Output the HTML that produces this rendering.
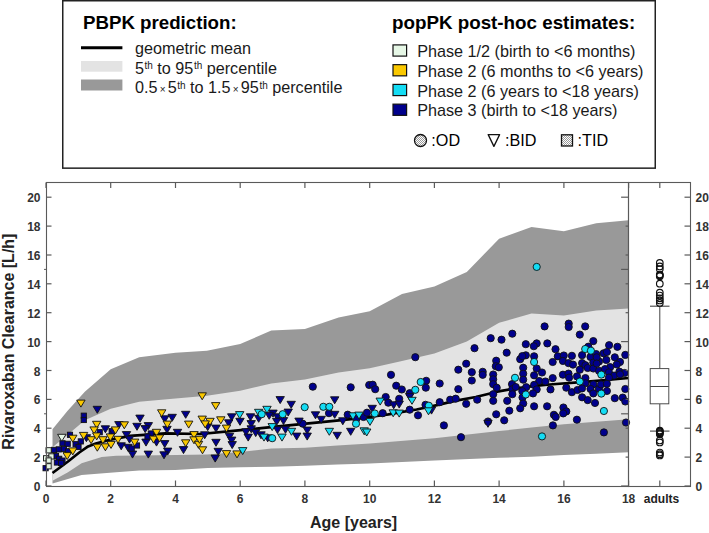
<!DOCTYPE html>
<html><head><meta charset="utf-8"><style>
html,body{margin:0;padding:0;background:#fff;}
svg{display:block;font-family:"Liberation Sans",sans-serif;}
</style></head><body>
<svg width="709" height="533" viewBox="0 0 709 533">
<rect x="62.75" y="0.75" width="592.5" height="167.4" fill="#fff" stroke="#222" stroke-width="1.5"/>
<text x="83" y="28.8" font-size="18.7" font-weight="bold">PBPK prediction:</text>
<line x1="81" y1="47.8" x2="122.4" y2="47.8" stroke="#000" stroke-width="3"/>
<rect x="81" y="61" width="41.4" height="10.7" fill="#e3e3e3"/>
<rect x="81" y="79.5" width="41.4" height="11" fill="#999"/>
<g fill="#1a1a1a">
<text x="135" y="53.9" font-size="16.2">geometric mean</text>
<text x="135" y="73.6" font-size="16.2">5<tspan font-size="10" dy="-4.6" dx="0.5">th</tspan><tspan dy="4.6"> to 95</tspan><tspan font-size="10" dy="-4.6" dx="0.5">th</tspan><tspan dy="4.6"> percentile</tspan></text>
<text x="135" y="93.2" font-size="16.2">0.5<tspan font-size="10" dx="2.2" dy="-0.2">×</tspan><tspan dy="0.2" dx="2.2">5</tspan><tspan font-size="10" dy="-4.6" dx="0.5">th</tspan><tspan dy="4.6"> to 1.5</tspan><tspan font-size="10" dx="2.2" dy="-0.2">×</tspan><tspan dy="0.2" dx="2.2">95</tspan><tspan font-size="10" dy="-4.6" dx="0.5">th</tspan><tspan dy="4.6"> percentile</tspan></text>
</g>
<text x="392" y="28.6" font-size="18.8" font-weight="bold">popPK post-hoc estimates:</text>
<rect x="393" y="44.90" width="13.6" height="11.2" fill="#e6f7e6" stroke="#111" stroke-width="1.2"/>
<text x="417.2" y="57.00" font-size="16.2" fill="#1a1a1a">Phase 1/2 (birth to &lt;6 months)</text>
<rect x="393" y="64.65" width="13.6" height="11.2" fill="#fac800" stroke="#111" stroke-width="1.2"/>
<text x="417.2" y="76.75" font-size="16.2" fill="#1a1a1a">Phase 2 (6 months to &lt;6 years)</text>
<rect x="393" y="84.40" width="13.6" height="11.2" fill="#14dcf4" stroke="#111" stroke-width="1.2"/>
<text x="417.2" y="96.50" font-size="16.2" fill="#1a1a1a">Phase 2 (6 years to &lt;18 years)</text>
<rect x="393" y="104.15" width="13.6" height="11.2" fill="#00008c" stroke="#111" stroke-width="1.2"/>
<text x="417.2" y="116.25" font-size="16.2" fill="#1a1a1a">Phase 3 (birth to &lt;18 years)</text>
<defs><pattern id="dots" width="2" height="2" patternUnits="userSpaceOnUse"><rect width="2" height="2" fill="#fff"/><rect width="1" height="1" fill="#999"/><rect x="1" y="1" width="1" height="1" fill="#999"/></pattern></defs>
<circle cx="420.5" cy="140.5" r="6" fill="url(#dots)" stroke="#111" stroke-width="1.3"/>
<text x="431.3" y="146.3" font-size="16.2">:OD</text>
<path d="M488.2,134.6 L499.6,134.6 L493.9,146.4 Z" fill="#fff" stroke="#111" stroke-width="1.3" stroke-linejoin="round"/>
<text x="505" y="146.3" font-size="16.2">:BID</text>
<rect x="561.5" y="134.8" width="11" height="11.2" fill="url(#dots)" stroke="#111" stroke-width="1.3"/>
<text x="577.5" y="146.3" font-size="16.2">:TID</text>
<polygon points="52.5,429.3 67.4,411.1 84.8,391.7 110.7,369.2 139.2,357.2 175.5,352.7 206.9,350.7 240.2,344.1 271.3,330.5 304.9,328.9 338.6,317.6 369.7,311.3 402.0,293.9 434.4,286.4 466.8,271.9 499.1,238.8 531.5,227.1 563.9,231.3 596.2,223.2 628.6,220.3 628.6,452.2 596.2,453.7 563.9,455.1 531.5,456.7 499.1,457.8 434.4,460.6 369.7,463.6 337.3,464.6 304.9,465.8 272.6,466.8 240.2,467.2 207.8,468.1 175.5,470.1 139.2,470.5 116.2,472.3 81.6,475.0 52.5,483.5" fill="#999"/>
<polygon points="52.5,447.3 67.4,435.0 84.8,420.2 110.7,408.7 139.2,401.7 175.5,398.6 206.9,395.8 240.2,390.7 271.3,383.5 304.9,379.4 338.6,372.6 369.7,368.3 402.0,361.1 434.4,353.4 466.8,341.6 499.1,322.8 531.5,313.6 563.9,315.6 596.2,310.6 628.6,308.4 628.6,419.3 596.2,421.7 563.9,424.2 531.5,427.5 499.1,431.1 434.4,438.2 369.7,443.4 337.3,445.6 304.9,447.7 271.3,448.5 240.2,452.1 206.9,454.5 175.5,455.0 139.2,455.4 116.2,455.8 101.7,457.0 81.6,463.2 68.0,472.3 52.5,480.7" fill="#e3e3e3"/>
<polyline points="52.5,473.0 68.0,461.5 79.3,452.5 88.1,446.4 95.8,443.5 110.7,439.6 130.2,435.9 165.4,433.4 200.7,434.0 235.7,430.7 270.9,427.1 306.2,423.6 341.5,420.2 360.0,418.1 388.4,414.4 416.6,409.5 439.3,404.6 454.8,400.9 475.8,397.0 497.2,391.7 511.4,389.0 532.8,386.1 549.6,384.5 587.8,381.6 628.6,378.0" fill="none" stroke="#000" stroke-width="2.7" stroke-linejoin="round"/>
<clipPath id="pc"><rect x="46.0" y="182.5" width="582.6" height="303.5"/></clipPath>
<g stroke="#111" stroke-width="0.9">
<rect x="67.4" y="432.2" width="5.2" height="5.2" fill="#00008c"/>
<rect x="59.9" y="440.7" width="5.2" height="5.2" fill="#00008c"/>
<rect x="65.1" y="441.2" width="5.2" height="5.2" fill="#00008c"/>
<rect x="73.0" y="441.6" width="5.2" height="5.2" fill="#00008c"/>
<rect x="78.2" y="438.8" width="5.2" height="5.2" fill="#00008c"/>
<rect x="75.9" y="444.4" width="5.2" height="5.2" fill="#00008c"/>
<rect x="51.5" y="447.3" width="5.2" height="5.2" fill="#00008c"/>
<rect x="56.2" y="446.8" width="5.2" height="5.2" fill="#00008c"/>
<rect x="61.3" y="446.3" width="5.2" height="5.2" fill="#00008c"/>
<rect x="65.5" y="448.7" width="5.2" height="5.2" fill="#00008c"/>
<rect x="53.4" y="453.4" width="5.2" height="5.2" fill="#00008c"/>
<rect x="56.6" y="456.2" width="5.2" height="5.2" fill="#00008c"/>
<rect x="59.9" y="458.0" width="5.2" height="5.2" fill="#00008c"/>
<rect x="54.3" y="459.9" width="5.2" height="5.2" fill="#00008c"/>
<rect x="58.5" y="460.4" width="5.2" height="5.2" fill="#00008c"/>
<rect x="43.0" y="465.6" width="5.2" height="5.2" fill="#00008c"/>
<rect x="81.2" y="413.1" width="5.2" height="5.2" fill="#00008c"/>
<rect x="81.2" y="417.4" width="5.2" height="5.2" fill="#00008c"/>
<rect x="97.1" y="429.6" width="5.2" height="5.2" fill="#00008c"/>
<rect x="109.1" y="429.6" width="5.2" height="5.2" fill="#00008c"/>
<path d="M82.20,434.70h8.4l-4.2,7z" fill="#00008c"/>
<path d="M93.10,406.30h8.4l-4.2,7z" fill="#00008c"/>
<path d="M101.20,425.80h8.4l-4.2,7z" fill="#00008c"/>
<path d="M114.70,421.60h8.4l-4.2,7z" fill="#00008c"/>
<path d="M135.80,415.10h8.4l-4.2,7z" fill="#00008c"/>
<path d="M168.00,414.30h8.4l-4.2,7z" fill="#00008c"/>
<path d="M181.50,411.30h8.4l-4.2,7z" fill="#00008c"/>
<path d="M160.50,415.80h8.4l-4.2,7z" fill="#00008c"/>
<path d="M132.80,423.30h8.4l-4.2,7z" fill="#00008c"/>
<path d="M144.10,422.60h8.4l-4.2,7z" fill="#00008c"/>
<path d="M141.00,425.60h8.4l-4.2,7z" fill="#00008c"/>
<path d="M162.80,426.30h8.4l-4.2,7z" fill="#00008c"/>
<path d="M173.30,429.30h8.4l-4.2,7z" fill="#00008c"/>
<path d="M122.30,431.60h8.4l-4.2,7z" fill="#00008c"/>
<path d="M125.30,436.10h8.4l-4.2,7z" fill="#00008c"/>
<path d="M141.80,439.10h8.4l-4.2,7z" fill="#00008c"/>
<path d="M152.30,439.10h8.4l-4.2,7z" fill="#00008c"/>
<path d="M160.50,440.60h8.4l-4.2,7z" fill="#00008c"/>
<path d="M117.00,442.80h8.4l-4.2,7z" fill="#00008c"/>
<path d="M123.80,444.30h8.4l-4.2,7z" fill="#00008c"/>
<path d="M128.30,451.10h8.4l-4.2,7z" fill="#00008c"/>
<path d="M144.10,451.10h8.4l-4.2,7z" fill="#00008c"/>
<path d="M163.50,448.10h8.4l-4.2,7z" fill="#00008c"/>
<path d="M159.80,451.80h8.4l-4.2,7z" fill="#00008c"/>
<path d="M179.30,446.60h8.4l-4.2,7z" fill="#00008c"/>
<path d="M108.80,428.60h8.4l-4.2,7z" fill="#00008c"/>
<rect x="148.2" y="430.9" width="5.2" height="5.2" fill="#00008c"/>
<rect x="129.1" y="445.9" width="5.2" height="5.2" fill="#00008c"/>
<rect x="134.4" y="442.9" width="5.2" height="5.2" fill="#00008c"/>
<rect x="144.9" y="433.9" width="5.2" height="5.2" fill="#00008c"/>
<path d="M276.00,396.60h8.4l-4.2,7z" fill="#00008c"/>
<path d="M227.50,413.80h8.4l-4.2,7z" fill="#00008c"/>
<path d="M235.80,418.30h8.4l-4.2,7z" fill="#00008c"/>
<path d="M246.30,413.80h8.4l-4.2,7z" fill="#00008c"/>
<path d="M224.50,419.80h8.4l-4.2,7z" fill="#00008c"/>
<path d="M211.80,425.10h8.4l-4.2,7z" fill="#00008c"/>
<path d="M203.50,423.60h8.4l-4.2,7z" fill="#00008c"/>
<path d="M247.00,420.60h8.4l-4.2,7z" fill="#00008c"/>
<path d="M254.50,415.30h8.4l-4.2,7z" fill="#00008c"/>
<path d="M268.80,410.10h8.4l-4.2,7z" fill="#00008c"/>
<path d="M265.00,412.30h8.4l-4.2,7z" fill="#00008c"/>
<path d="M273.30,413.80h8.4l-4.2,7z" fill="#00008c"/>
<path d="M272.50,418.30h8.4l-4.2,7z" fill="#00008c"/>
<path d="M279.30,417.60h8.4l-4.2,7z" fill="#00008c"/>
<path d="M247.00,425.80h8.4l-4.2,7z" fill="#00008c"/>
<path d="M241.80,428.80h8.4l-4.2,7z" fill="#00008c"/>
<path d="M251.50,429.60h8.4l-4.2,7z" fill="#00008c"/>
<path d="M244.00,434.10h8.4l-4.2,7z" fill="#00008c"/>
<path d="M256.80,431.80h8.4l-4.2,7z" fill="#00008c"/>
<path d="M200.50,431.80h8.4l-4.2,7z" fill="#00008c"/>
<path d="M225.30,433.30h8.4l-4.2,7z" fill="#00008c"/>
<path d="M227.50,437.10h8.4l-4.2,7z" fill="#00008c"/>
<path d="M228.00,441.60h8.4l-4.2,7z" fill="#00008c"/>
<path d="M211.80,439.30h8.4l-4.2,7z" fill="#00008c"/>
<path d="M214.00,448.30h8.4l-4.2,7z" fill="#00008c"/>
<path d="M211.00,455.10h8.4l-4.2,7z" fill="#00008c"/>
<path d="M273.30,426.60h8.4l-4.2,7z" fill="#00008c"/>
<path d="M263.50,434.80h8.4l-4.2,7z" fill="#00008c"/>
<circle cx="312.8" cy="386.7" r="3.6" fill="#00008c"/>
<circle cx="350.7" cy="387.3" r="3.6" fill="#00008c"/>
<circle cx="329.0" cy="413.2" r="3.6" fill="#00008c"/>
<circle cx="347.7" cy="414.7" r="3.6" fill="#00008c"/>
<circle cx="302.7" cy="423.7" r="3.6" fill="#00008c"/>
<circle cx="363.5" cy="417.0" r="3.6" fill="#00008c"/>
<path d="M287.00,401.30h8.4l-4.2,7z" fill="#00008c"/>
<path d="M284.00,409.10h8.4l-4.2,7z" fill="#00008c"/>
<path d="M330.50,396.80h8.4l-4.2,7z" fill="#00008c"/>
<path d="M311.30,411.80h8.4l-4.2,7z" fill="#00008c"/>
<path d="M317.00,416.30h8.4l-4.2,7z" fill="#00008c"/>
<path d="M330.50,411.30h8.4l-4.2,7z" fill="#00008c"/>
<path d="M294.80,418.10h8.4l-4.2,7z" fill="#00008c"/>
<path d="M338.60,417.80h8.4l-4.2,7z" fill="#00008c"/>
<path d="M281.30,426.30h8.4l-4.2,7z" fill="#00008c"/>
<path d="M303.00,427.10h8.4l-4.2,7z" fill="#00008c"/>
<path d="M292.50,433.10h8.4l-4.2,7z" fill="#00008c"/>
<path d="M303.00,433.10h8.4l-4.2,7z" fill="#00008c"/>
<path d="M333.00,432.30h8.4l-4.2,7z" fill="#00008c"/>
<path d="M346.50,428.30h8.4l-4.2,7z" fill="#00008c"/>
<circle cx="415.3" cy="357.2" r="3.6" fill="#00008c"/>
<circle cx="391.0" cy="374.8" r="3.6" fill="#00008c"/>
<circle cx="369.2" cy="385.0" r="3.6" fill="#00008c"/>
<circle cx="372.7" cy="384.7" r="3.6" fill="#00008c"/>
<circle cx="375.2" cy="389.2" r="3.6" fill="#00008c"/>
<circle cx="396.2" cy="385.7" r="3.6" fill="#00008c"/>
<circle cx="401.8" cy="389.5" r="3.6" fill="#00008c"/>
<circle cx="426.2" cy="380.8" r="3.6" fill="#00008c"/>
<circle cx="425.8" cy="387.7" r="3.6" fill="#00008c"/>
<circle cx="439.7" cy="383.5" r="3.6" fill="#00008c"/>
<circle cx="409.7" cy="393.2" r="3.6" fill="#00008c"/>
<circle cx="385.7" cy="397.0" r="3.6" fill="#00008c"/>
<circle cx="388.3" cy="402.7" r="3.6" fill="#00008c"/>
<circle cx="399.2" cy="398.8" r="3.6" fill="#00008c"/>
<circle cx="439.7" cy="402.2" r="3.6" fill="#00008c"/>
<circle cx="425.5" cy="404.8" r="3.6" fill="#00008c"/>
<circle cx="409.7" cy="409.7" r="3.6" fill="#00008c"/>
<circle cx="382.7" cy="413.2" r="3.6" fill="#00008c"/>
<circle cx="367.0" cy="412.7" r="3.6" fill="#00008c"/>
<circle cx="418.0" cy="415.3" r="3.6" fill="#00008c"/>
<circle cx="443.9" cy="425.4" r="3.6" fill="#00008c"/>
<circle cx="356.3" cy="419.0" r="3.6" fill="#00008c"/>
<path d="M368.00,405.30h8.4l-4.2,7z" fill="#00008c"/>
<path d="M389.50,401.80h8.4l-4.2,7z" fill="#00008c"/>
<path d="M395.00,401.10h8.4l-4.2,7z" fill="#00008c"/>
<path d="M405.50,393.60h8.4l-4.2,7z" fill="#00008c"/>
<path d="M427.30,407.10h8.4l-4.2,7z" fill="#00008c"/>
<circle cx="512.3" cy="333.7" r="3.6" fill="#00008c"/>
<circle cx="490.7" cy="338.2" r="3.6" fill="#00008c"/>
<circle cx="501.5" cy="339.7" r="3.6" fill="#00008c"/>
<circle cx="525.8" cy="344.2" r="3.6" fill="#00008c"/>
<circle cx="474.5" cy="348.2" r="3.6" fill="#00008c"/>
<circle cx="506.7" cy="352.7" r="3.6" fill="#00008c"/>
<circle cx="525.8" cy="355.3" r="3.6" fill="#00008c"/>
<circle cx="520.2" cy="359.2" r="3.6" fill="#00008c"/>
<circle cx="496.2" cy="360.7" r="3.6" fill="#00008c"/>
<circle cx="495.8" cy="366.2" r="3.6" fill="#00008c"/>
<circle cx="498.8" cy="367.3" r="3.6" fill="#00008c"/>
<circle cx="466.2" cy="363.7" r="3.6" fill="#00008c"/>
<circle cx="458.3" cy="369.7" r="3.6" fill="#00008c"/>
<circle cx="471.8" cy="372.2" r="3.6" fill="#00008c"/>
<circle cx="482.7" cy="371.8" r="3.6" fill="#00008c"/>
<circle cx="482.7" cy="374.8" r="3.6" fill="#00008c"/>
<circle cx="493.2" cy="374.5" r="3.6" fill="#00008c"/>
<circle cx="493.2" cy="379.3" r="3.6" fill="#00008c"/>
<circle cx="493.2" cy="384.2" r="3.6" fill="#00008c"/>
<circle cx="496.7" cy="387.7" r="3.6" fill="#00008c"/>
<circle cx="471.8" cy="380.5" r="3.6" fill="#00008c"/>
<circle cx="523.2" cy="367.7" r="3.6" fill="#00008c"/>
<circle cx="523.2" cy="373.7" r="3.6" fill="#00008c"/>
<circle cx="523.2" cy="379.7" r="3.6" fill="#00008c"/>
<circle cx="512.0" cy="384.2" r="3.6" fill="#00008c"/>
<circle cx="526.2" cy="387.2" r="3.6" fill="#00008c"/>
<circle cx="458.3" cy="389.2" r="3.6" fill="#00008c"/>
<circle cx="450.2" cy="399.7" r="3.6" fill="#00008c"/>
<circle cx="455.7" cy="398.7" r="3.6" fill="#00008c"/>
<circle cx="466.2" cy="403.8" r="3.6" fill="#00008c"/>
<circle cx="477.2" cy="399.7" r="3.6" fill="#00008c"/>
<circle cx="493.2" cy="394.2" r="3.6" fill="#00008c"/>
<circle cx="493.2" cy="400.8" r="3.6" fill="#00008c"/>
<circle cx="507.2" cy="400.8" r="3.6" fill="#00008c"/>
<circle cx="512.3" cy="389.2" r="3.6" fill="#00008c"/>
<circle cx="512.3" cy="394.2" r="3.6" fill="#00008c"/>
<circle cx="515.7" cy="387.0" r="3.6" fill="#00008c"/>
<circle cx="522.5" cy="397.5" r="3.6" fill="#00008c"/>
<circle cx="523.2" cy="403.5" r="3.6" fill="#00008c"/>
<circle cx="520.2" cy="408.3" r="3.6" fill="#00008c"/>
<circle cx="509.3" cy="410.7" r="3.6" fill="#00008c"/>
<circle cx="496.2" cy="414.3" r="3.6" fill="#00008c"/>
<circle cx="504.2" cy="420.3" r="3.6" fill="#00008c"/>
<circle cx="461.0" cy="437.2" r="3.6" fill="#00008c"/>
<circle cx="488.0" cy="421.5" r="3.6" fill="#00008c"/>
<path d="M483.80,420.30h8.4l-4.2,7z" fill="#00008c"/>
<circle cx="544.6" cy="326.4" r="3.6" fill="#00008c"/>
<circle cx="568.7" cy="323.6" r="3.6" fill="#00008c"/>
<circle cx="568.7" cy="327.0" r="3.6" fill="#00008c"/>
<circle cx="585.2" cy="326.4" r="3.6" fill="#00008c"/>
<circle cx="579.8" cy="334.6" r="3.6" fill="#00008c"/>
<circle cx="593.3" cy="341.1" r="3.6" fill="#00008c"/>
<circle cx="536.7" cy="343.4" r="3.6" fill="#00008c"/>
<circle cx="533.8" cy="346.2" r="3.6" fill="#00008c"/>
<circle cx="547.3" cy="343.4" r="3.6" fill="#00008c"/>
<circle cx="555.5" cy="349.2" r="3.6" fill="#00008c"/>
<circle cx="534.1" cy="356.3" r="3.6" fill="#00008c"/>
<circle cx="557.8" cy="356.3" r="3.6" fill="#00008c"/>
<circle cx="563.8" cy="355.5" r="3.6" fill="#00008c"/>
<circle cx="571.9" cy="355.8" r="3.6" fill="#00008c"/>
<circle cx="582.1" cy="355.2" r="3.6" fill="#00008c"/>
<circle cx="588.3" cy="346.7" r="3.6" fill="#00008c"/>
<circle cx="590.5" cy="356.9" r="3.6" fill="#00008c"/>
<circle cx="596.2" cy="354.1" r="3.6" fill="#00008c"/>
<circle cx="552.7" cy="362.0" r="3.6" fill="#00008c"/>
<circle cx="562.9" cy="360.9" r="3.6" fill="#00008c"/>
<circle cx="568.5" cy="363.1" r="3.6" fill="#00008c"/>
<circle cx="582.1" cy="363.1" r="3.6" fill="#00008c"/>
<circle cx="593.3" cy="362.5" r="3.6" fill="#00008c"/>
<circle cx="599.0" cy="361.4" r="3.6" fill="#00008c"/>
<circle cx="522.3" cy="391.1" r="3.6" fill="#00008c"/>
<circle cx="522.3" cy="356.1" r="3.6" fill="#00008c"/>
<circle cx="536.7" cy="368.5" r="3.6" fill="#00008c"/>
<circle cx="542.0" cy="372.5" r="3.6" fill="#00008c"/>
<circle cx="534.1" cy="375.3" r="3.6" fill="#00008c"/>
<circle cx="539.2" cy="381.0" r="3.6" fill="#00008c"/>
<circle cx="545.4" cy="381.5" r="3.6" fill="#00008c"/>
<circle cx="534.1" cy="384.9" r="3.6" fill="#00008c"/>
<circle cx="536.7" cy="389.4" r="3.6" fill="#00008c"/>
<circle cx="533.0" cy="393.4" r="3.6" fill="#00008c"/>
<circle cx="573.0" cy="364.6" r="3.6" fill="#00008c"/>
<circle cx="552.7" cy="378.1" r="3.6" fill="#00008c"/>
<circle cx="562.9" cy="374.7" r="3.6" fill="#00008c"/>
<circle cx="568.5" cy="373.6" r="3.6" fill="#00008c"/>
<circle cx="569.1" cy="377.6" r="3.6" fill="#00008c"/>
<circle cx="550.5" cy="389.4" r="3.6" fill="#00008c"/>
<circle cx="566.3" cy="387.7" r="3.6" fill="#00008c"/>
<circle cx="571.9" cy="392.2" r="3.6" fill="#00008c"/>
<circle cx="577.5" cy="390.0" r="3.6" fill="#00008c"/>
<circle cx="577.0" cy="376.4" r="3.6" fill="#00008c"/>
<circle cx="579.8" cy="369.7" r="3.6" fill="#00008c"/>
<circle cx="585.4" cy="365.2" r="3.6" fill="#00008c"/>
<circle cx="587.7" cy="368.0" r="3.6" fill="#00008c"/>
<circle cx="593.3" cy="368.5" r="3.6" fill="#00008c"/>
<circle cx="599.0" cy="370.8" r="3.6" fill="#00008c"/>
<circle cx="585.4" cy="378.1" r="3.6" fill="#00008c"/>
<circle cx="585.4" cy="383.2" r="3.6" fill="#00008c"/>
<circle cx="593.3" cy="384.3" r="3.6" fill="#00008c"/>
<circle cx="590.5" cy="388.9" r="3.6" fill="#00008c"/>
<circle cx="593.3" cy="393.4" r="3.6" fill="#00008c"/>
<circle cx="599.0" cy="388.9" r="3.6" fill="#00008c"/>
<circle cx="582.1" cy="397.3" r="3.6" fill="#00008c"/>
<circle cx="587.7" cy="400.1" r="3.6" fill="#00008c"/>
<circle cx="595.0" cy="403.0" r="3.6" fill="#00008c"/>
<circle cx="534.1" cy="406.3" r="3.6" fill="#00008c"/>
<circle cx="547.1" cy="406.3" r="3.6" fill="#00008c"/>
<circle cx="563.4" cy="407.5" r="3.6" fill="#00008c"/>
<circle cx="566.3" cy="411.4" r="3.6" fill="#00008c"/>
<circle cx="553.9" cy="414.8" r="3.6" fill="#00008c"/>
<circle cx="596.7" cy="357.3" r="3.6" fill="#00008c"/>
<circle cx="596.7" cy="363.5" r="3.6" fill="#00008c"/>
<circle cx="563.2" cy="413.4" r="3.6" fill="#00008c"/>
<circle cx="555.7" cy="416.9" r="3.6" fill="#00008c"/>
<circle cx="552.9" cy="425.4" r="3.6" fill="#00008c"/>
<circle cx="576.9" cy="419.7" r="3.6" fill="#00008c"/>
<circle cx="609.1" cy="345.2" r="3.6" fill="#00008c"/>
<circle cx="617.4" cy="346.8" r="3.6" fill="#00008c"/>
<circle cx="625.3" cy="354.9" r="3.6" fill="#00008c"/>
<circle cx="603.6" cy="353.3" r="3.6" fill="#00008c"/>
<circle cx="606.9" cy="352.0" r="3.6" fill="#00008c"/>
<circle cx="614.8" cy="357.3" r="3.6" fill="#00008c"/>
<circle cx="606.3" cy="359.9" r="3.6" fill="#00008c"/>
<circle cx="620.0" cy="361.9" r="3.6" fill="#00008c"/>
<circle cx="610.2" cy="367.1" r="3.6" fill="#00008c"/>
<circle cx="616.8" cy="364.5" r="3.6" fill="#00008c"/>
<circle cx="605.0" cy="369.1" r="3.6" fill="#00008c"/>
<circle cx="619.4" cy="371.7" r="3.6" fill="#00008c"/>
<circle cx="624.6" cy="373.0" r="3.6" fill="#00008c"/>
<circle cx="608.9" cy="372.4" r="3.6" fill="#00008c"/>
<circle cx="614.1" cy="375.6" r="3.6" fill="#00008c"/>
<circle cx="620.0" cy="374.3" r="3.6" fill="#00008c"/>
<circle cx="608.9" cy="377.6" r="3.6" fill="#00008c"/>
<circle cx="601.0" cy="384.4" r="3.6" fill="#00008c"/>
<circle cx="606.9" cy="383.8" r="3.6" fill="#00008c"/>
<circle cx="606.9" cy="391.0" r="3.6" fill="#00008c"/>
<circle cx="582.0" cy="388.4" r="3.6" fill="#00008c"/>
<circle cx="614.8" cy="398.2" r="3.6" fill="#00008c"/>
<circle cx="622.7" cy="397.6" r="3.6" fill="#00008c"/>
<circle cx="625.3" cy="389.0" r="3.6" fill="#00008c"/>
<circle cx="625.3" cy="401.5" r="3.6" fill="#00008c"/>
<circle cx="626.0" cy="422.5" r="3.6" fill="#00008c"/>
<circle cx="603.9" cy="432.4" r="3.6" fill="#00008c"/>
<path d="M68.60,435.20h8.4l-4.2,7z" fill="#fac800"/>
<path d="M79.40,432.40h8.4l-4.2,7z" fill="#fac800"/>
<path d="M68.60,447.90h8.4l-4.2,7z" fill="#fac800"/>
<path d="M63.00,452.60h8.4l-4.2,7z" fill="#fac800"/>
<path d="M76.70,400.10h8.4l-4.2,7z" fill="#fac800"/>
<path d="M92.50,421.30h8.4l-4.2,7z" fill="#fac800"/>
<path d="M89.90,426.90h8.4l-4.2,7z" fill="#fac800"/>
<path d="M86.90,436.70h8.4l-4.2,7z" fill="#fac800"/>
<path d="M92.50,432.90h8.4l-4.2,7z" fill="#fac800"/>
<path d="M98.70,436.70h8.4l-4.2,7z" fill="#fac800"/>
<path d="M106.20,433.90h8.4l-4.2,7z" fill="#fac800"/>
<path d="M111.30,426.90h8.4l-4.2,7z" fill="#fac800"/>
<path d="M113.80,436.30h8.4l-4.2,7z" fill="#fac800"/>
<path d="M93.10,444.20h8.4l-4.2,7z" fill="#fac800"/>
<path d="M101.20,443.80h8.4l-4.2,7z" fill="#fac800"/>
<path d="M106.80,441.40h8.4l-4.2,7z" fill="#fac800"/>
<path d="M157.50,409.80h8.4l-4.2,7z" fill="#fac800"/>
<path d="M120.10,421.80h8.4l-4.2,7z" fill="#fac800"/>
<path d="M163.10,421.10h8.4l-4.2,7z" fill="#fac800"/>
<path d="M184.50,421.10h8.4l-4.2,7z" fill="#fac800"/>
<path d="M152.30,429.30h8.4l-4.2,7z" fill="#fac800"/>
<path d="M130.50,439.10h8.4l-4.2,7z" fill="#fac800"/>
<path d="M149.30,436.10h8.4l-4.2,7z" fill="#fac800"/>
<path d="M155.30,434.90h8.4l-4.2,7z" fill="#fac800"/>
<path d="M189.80,431.60h8.4l-4.2,7z" fill="#fac800"/>
<path d="M189.80,436.80h8.4l-4.2,7z" fill="#fac800"/>
<path d="M181.50,439.80h8.4l-4.2,7z" fill="#fac800"/>
<path d="M194.30,441.30h8.4l-4.2,7z" fill="#fac800"/>
<path d="M198.00,392.80h8.4l-4.2,7z" fill="#fac800"/>
<path d="M211.50,402.60h8.4l-4.2,7z" fill="#fac800"/>
<path d="M198.00,416.10h8.4l-4.2,7z" fill="#fac800"/>
<path d="M205.80,418.30h8.4l-4.2,7z" fill="#fac800"/>
<path d="M201.00,420.90h8.4l-4.2,7z" fill="#fac800"/>
<path d="M216.60,416.80h8.4l-4.2,7z" fill="#fac800"/>
<path d="M222.30,425.10h8.4l-4.2,7z" fill="#fac800"/>
<path d="M195.30,436.30h8.4l-4.2,7z" fill="#fac800"/>
<path d="M198.30,446.80h8.4l-4.2,7z" fill="#fac800"/>
<path d="M222.30,450.60h8.4l-4.2,7z" fill="#fac800"/>
<path d="M232.80,450.90h8.4l-4.2,7z" fill="#fac800"/>
<path d="M235.50,411.60h8.4l-4.2,7z" fill="#14dcf4"/>
<path d="M262.80,406.30h8.4l-4.2,7z" fill="#14dcf4"/>
<path d="M254.50,409.30h8.4l-4.2,7z" fill="#14dcf4"/>
<path d="M268.00,423.60h8.4l-4.2,7z" fill="#14dcf4"/>
<path d="M259.80,434.10h8.4l-4.2,7z" fill="#14dcf4"/>
<path d="M238.50,447.60h8.4l-4.2,7z" fill="#14dcf4"/>
<path d="M277.80,434.10h8.4l-4.2,7z" fill="#14dcf4"/>
<circle cx="261.7" cy="414.2" r="3.6" fill="#14dcf4"/>
<circle cx="282.7" cy="414.2" r="3.6" fill="#14dcf4"/>
<circle cx="272.2" cy="438.2" r="3.6" fill="#14dcf4"/>
<circle cx="304.7" cy="407.2" r="3.6" fill="#14dcf4"/>
<circle cx="323.3" cy="406.8" r="3.6" fill="#14dcf4"/>
<circle cx="329.3" cy="406.8" r="3.6" fill="#14dcf4"/>
<circle cx="356.0" cy="423.7" r="3.6" fill="#14dcf4"/>
<path d="M348.80,412.80h8.4l-4.2,7z" fill="#14dcf4"/>
<path d="M354.80,412.10h8.4l-4.2,7z" fill="#14dcf4"/>
<path d="M287.30,428.30h8.4l-4.2,7z" fill="#14dcf4"/>
<path d="M325.10,428.30h8.4l-4.2,7z" fill="#14dcf4"/>
<path d="M360.00,427.80h8.4l-4.2,7z" fill="#14dcf4"/>
<circle cx="420.7" cy="382.0" r="3.6" fill="#14dcf4"/>
<circle cx="415.3" cy="389.8" r="3.6" fill="#14dcf4"/>
<circle cx="374.8" cy="413.5" r="3.6" fill="#14dcf4"/>
<circle cx="428.8" cy="405.7" r="3.6" fill="#14dcf4"/>
<path d="M376.00,398.10h8.4l-4.2,7z" fill="#14dcf4"/>
<path d="M407.80,397.30h8.4l-4.2,7z" fill="#14dcf4"/>
<path d="M389.00,409.80h8.4l-4.2,7z" fill="#14dcf4"/>
<path d="M395.00,410.10h8.4l-4.2,7z" fill="#14dcf4"/>
<path d="M424.30,407.80h8.4l-4.2,7z" fill="#14dcf4"/>
<path d="M365.80,418.40h8.4l-4.2,7z" fill="#14dcf4"/>
<path d="M362.50,429.00h8.4l-4.2,7z" fill="#14dcf4"/>
<circle cx="515.0" cy="377.8" r="3.6" fill="#14dcf4"/>
<circle cx="525.8" cy="394.5" r="3.6" fill="#14dcf4"/>
<circle cx="585.2" cy="349.0" r="3.6" fill="#14dcf4"/>
<circle cx="590.9" cy="350.7" r="3.6" fill="#14dcf4"/>
<circle cx="534.1" cy="362.0" r="3.6" fill="#14dcf4"/>
<circle cx="579.8" cy="381.5" r="3.6" fill="#14dcf4"/>
<circle cx="542.0" cy="436.4" r="3.6" fill="#14dcf4"/>
<circle cx="536.7" cy="266.9" r="3.6" fill="#14dcf4"/>
<circle cx="601.3" cy="374.6" r="3.6" fill="#14dcf4"/>
<circle cx="601.3" cy="393.6" r="3.6" fill="#14dcf4"/>
<circle cx="603.9" cy="411.0" r="3.6" fill="#14dcf4"/>
<rect x="46.0" y="447.7" width="5.2" height="5.2" fill="#e6f7e6"/>
<rect x="48.8" y="453.8" width="5.2" height="5.2" fill="#e6f7e6"/>
<rect x="43.5" y="455.7" width="5.2" height="5.2" fill="#e6f7e6"/>
<rect x="46.0" y="457.9" width="5.2" height="5.2" fill="#e6f7e6"/>
<rect x="46.0" y="463.7" width="5.2" height="5.2" fill="#e6f7e6"/>
<path d="M57.60,434.30h8.4l-4.2,7z" fill="#e6f7e6"/>
</g>
<rect x="46.5" y="182.5" width="582" height="304" fill="none" stroke="#5a5a5a" stroke-width="1.1"/>
<rect x="628.5" y="182.5" width="62" height="304" fill="none" stroke="#5a5a5a" stroke-width="1.1"/>
<line x1="46.0" y1="486.0" x2="51.5" y2="486.0" stroke="#5a5a5a" stroke-width="1.2"/>
<line x1="684.5" y1="486.0" x2="690.7" y2="486.0" stroke="#5a5a5a" stroke-width="1.2"/>
<text x="40.5" y="491.0" font-size="12" font-weight="bold" text-anchor="end" fill="#333">0</text>
<text x="695.6" y="491.0" font-size="12" font-weight="bold" fill="#333">0</text>
<line x1="46.0" y1="457.1" x2="51.5" y2="457.1" stroke="#5a5a5a" stroke-width="1.2"/>
<line x1="684.5" y1="457.1" x2="690.7" y2="457.1" stroke="#5a5a5a" stroke-width="1.2"/>
<text x="40.5" y="462.1" font-size="12" font-weight="bold" text-anchor="end" fill="#333">2</text>
<text x="695.6" y="462.1" font-size="12" font-weight="bold" fill="#333">2</text>
<line x1="46.0" y1="428.2" x2="51.5" y2="428.2" stroke="#5a5a5a" stroke-width="1.2"/>
<line x1="684.5" y1="428.2" x2="690.7" y2="428.2" stroke="#5a5a5a" stroke-width="1.2"/>
<text x="40.5" y="433.2" font-size="12" font-weight="bold" text-anchor="end" fill="#333">4</text>
<text x="695.6" y="433.2" font-size="12" font-weight="bold" fill="#333">4</text>
<line x1="46.0" y1="399.4" x2="51.5" y2="399.4" stroke="#5a5a5a" stroke-width="1.2"/>
<line x1="684.5" y1="399.4" x2="690.7" y2="399.4" stroke="#5a5a5a" stroke-width="1.2"/>
<text x="40.5" y="404.4" font-size="12" font-weight="bold" text-anchor="end" fill="#333">6</text>
<text x="695.6" y="404.4" font-size="12" font-weight="bold" fill="#333">6</text>
<line x1="46.0" y1="370.5" x2="51.5" y2="370.5" stroke="#5a5a5a" stroke-width="1.2"/>
<line x1="684.5" y1="370.5" x2="690.7" y2="370.5" stroke="#5a5a5a" stroke-width="1.2"/>
<text x="40.5" y="375.5" font-size="12" font-weight="bold" text-anchor="end" fill="#333">8</text>
<text x="695.6" y="375.5" font-size="12" font-weight="bold" fill="#333">8</text>
<line x1="46.0" y1="341.6" x2="51.5" y2="341.6" stroke="#5a5a5a" stroke-width="1.2"/>
<line x1="684.5" y1="341.6" x2="690.7" y2="341.6" stroke="#5a5a5a" stroke-width="1.2"/>
<text x="40.5" y="346.6" font-size="12" font-weight="bold" text-anchor="end" fill="#333">10</text>
<text x="695.6" y="346.6" font-size="12" font-weight="bold" fill="#333">10</text>
<line x1="46.0" y1="312.7" x2="51.5" y2="312.7" stroke="#5a5a5a" stroke-width="1.2"/>
<line x1="684.5" y1="312.7" x2="690.7" y2="312.7" stroke="#5a5a5a" stroke-width="1.2"/>
<text x="40.5" y="317.7" font-size="12" font-weight="bold" text-anchor="end" fill="#333">12</text>
<text x="695.6" y="317.7" font-size="12" font-weight="bold" fill="#333">12</text>
<line x1="46.0" y1="283.8" x2="51.5" y2="283.8" stroke="#5a5a5a" stroke-width="1.2"/>
<line x1="684.5" y1="283.8" x2="690.7" y2="283.8" stroke="#5a5a5a" stroke-width="1.2"/>
<text x="40.5" y="288.8" font-size="12" font-weight="bold" text-anchor="end" fill="#333">14</text>
<text x="695.6" y="288.8" font-size="12" font-weight="bold" fill="#333">14</text>
<line x1="46.0" y1="255.0" x2="51.5" y2="255.0" stroke="#5a5a5a" stroke-width="1.2"/>
<line x1="684.5" y1="255.0" x2="690.7" y2="255.0" stroke="#5a5a5a" stroke-width="1.2"/>
<text x="40.5" y="260.0" font-size="12" font-weight="bold" text-anchor="end" fill="#333">16</text>
<text x="695.6" y="260.0" font-size="12" font-weight="bold" fill="#333">16</text>
<line x1="46.0" y1="226.1" x2="51.5" y2="226.1" stroke="#5a5a5a" stroke-width="1.2"/>
<line x1="684.5" y1="226.1" x2="690.7" y2="226.1" stroke="#5a5a5a" stroke-width="1.2"/>
<text x="40.5" y="231.1" font-size="12" font-weight="bold" text-anchor="end" fill="#333">18</text>
<text x="695.6" y="231.1" font-size="12" font-weight="bold" fill="#333">18</text>
<line x1="46.0" y1="197.2" x2="51.5" y2="197.2" stroke="#5a5a5a" stroke-width="1.2"/>
<line x1="684.5" y1="197.2" x2="690.7" y2="197.2" stroke="#5a5a5a" stroke-width="1.2"/>
<text x="40.5" y="202.2" font-size="12" font-weight="bold" text-anchor="end" fill="#333">20</text>
<text x="695.6" y="202.2" font-size="12" font-weight="bold" fill="#333">20</text>
<line x1="621.1" y1="486.0" x2="628.6" y2="486.0" stroke="#5a5a5a" stroke-width="1.2"/>
<line x1="625.6" y1="457.1" x2="628.6" y2="457.1" stroke="#5a5a5a" stroke-width="1.2"/>
<line x1="625.6" y1="428.2" x2="628.6" y2="428.2" stroke="#5a5a5a" stroke-width="1.2"/>
<line x1="621.1" y1="413.8" x2="628.6" y2="413.8" stroke="#5a5a5a" stroke-width="1.2"/>
<line x1="625.6" y1="399.4" x2="628.6" y2="399.4" stroke="#5a5a5a" stroke-width="1.2"/>
<line x1="625.6" y1="370.5" x2="628.6" y2="370.5" stroke="#5a5a5a" stroke-width="1.2"/>
<line x1="621.1" y1="341.6" x2="628.6" y2="341.6" stroke="#5a5a5a" stroke-width="1.2"/>
<line x1="625.6" y1="312.7" x2="628.6" y2="312.7" stroke="#5a5a5a" stroke-width="1.2"/>
<line x1="625.6" y1="283.8" x2="628.6" y2="283.8" stroke="#5a5a5a" stroke-width="1.2"/>
<line x1="621.1" y1="269.4" x2="628.6" y2="269.4" stroke="#5a5a5a" stroke-width="1.2"/>
<line x1="625.6" y1="255.0" x2="628.6" y2="255.0" stroke="#5a5a5a" stroke-width="1.2"/>
<line x1="625.6" y1="226.1" x2="628.6" y2="226.1" stroke="#5a5a5a" stroke-width="1.2"/>
<line x1="621.1" y1="197.2" x2="628.6" y2="197.2" stroke="#5a5a5a" stroke-width="1.2"/>
<line x1="44.0" y1="413.8" x2="46.0" y2="413.8" stroke="#5a5a5a" stroke-width="1"/>
<line x1="44.0" y1="269.4" x2="46.0" y2="269.4" stroke="#5a5a5a" stroke-width="1"/>
<line x1="46.0" y1="486.0" x2="46.0" y2="480.5" stroke="#5a5a5a" stroke-width="1.2"/>
<line x1="46.0" y1="182.5" x2="46.0" y2="188" stroke="#5a5a5a" stroke-width="1.2"/>
<text x="46.0" y="503.4" font-size="12" font-weight="bold" text-anchor="middle" fill="#333">0</text>
<line x1="110.7" y1="486.0" x2="110.7" y2="480.5" stroke="#5a5a5a" stroke-width="1.2"/>
<line x1="110.7" y1="182.5" x2="110.7" y2="188" stroke="#5a5a5a" stroke-width="1.2"/>
<text x="110.7" y="503.4" font-size="12" font-weight="bold" text-anchor="middle" fill="#333">2</text>
<line x1="175.5" y1="486.0" x2="175.5" y2="480.5" stroke="#5a5a5a" stroke-width="1.2"/>
<line x1="175.5" y1="182.5" x2="175.5" y2="188" stroke="#5a5a5a" stroke-width="1.2"/>
<text x="175.5" y="503.4" font-size="12" font-weight="bold" text-anchor="middle" fill="#333">4</text>
<line x1="240.2" y1="486.0" x2="240.2" y2="480.5" stroke="#5a5a5a" stroke-width="1.2"/>
<line x1="240.2" y1="182.5" x2="240.2" y2="188" stroke="#5a5a5a" stroke-width="1.2"/>
<text x="240.2" y="503.4" font-size="12" font-weight="bold" text-anchor="middle" fill="#333">6</text>
<line x1="304.9" y1="486.0" x2="304.9" y2="480.5" stroke="#5a5a5a" stroke-width="1.2"/>
<line x1="304.9" y1="182.5" x2="304.9" y2="188" stroke="#5a5a5a" stroke-width="1.2"/>
<text x="304.9" y="503.4" font-size="12" font-weight="bold" text-anchor="middle" fill="#333">8</text>
<line x1="369.7" y1="486.0" x2="369.7" y2="480.5" stroke="#5a5a5a" stroke-width="1.2"/>
<line x1="369.7" y1="182.5" x2="369.7" y2="188" stroke="#5a5a5a" stroke-width="1.2"/>
<text x="369.7" y="503.4" font-size="12" font-weight="bold" text-anchor="middle" fill="#333">10</text>
<line x1="434.4" y1="486.0" x2="434.4" y2="480.5" stroke="#5a5a5a" stroke-width="1.2"/>
<line x1="434.4" y1="182.5" x2="434.4" y2="188" stroke="#5a5a5a" stroke-width="1.2"/>
<text x="434.4" y="503.4" font-size="12" font-weight="bold" text-anchor="middle" fill="#333">12</text>
<line x1="499.1" y1="486.0" x2="499.1" y2="480.5" stroke="#5a5a5a" stroke-width="1.2"/>
<line x1="499.1" y1="182.5" x2="499.1" y2="188" stroke="#5a5a5a" stroke-width="1.2"/>
<text x="499.1" y="503.4" font-size="12" font-weight="bold" text-anchor="middle" fill="#333">14</text>
<line x1="563.9" y1="486.0" x2="563.9" y2="480.5" stroke="#5a5a5a" stroke-width="1.2"/>
<line x1="563.9" y1="182.5" x2="563.9" y2="188" stroke="#5a5a5a" stroke-width="1.2"/>
<text x="563.9" y="503.4" font-size="12" font-weight="bold" text-anchor="middle" fill="#333">16</text>
<line x1="628.6" y1="486.0" x2="628.6" y2="480.5" stroke="#5a5a5a" stroke-width="1.2"/>
<line x1="628.6" y1="182.5" x2="628.6" y2="188" stroke="#5a5a5a" stroke-width="1.2"/>
<text x="628.6" y="503.4" font-size="12" font-weight="bold" text-anchor="middle" fill="#333">18</text>
<line x1="659.8" y1="182.5" x2="659.8" y2="188" stroke="#5a5a5a" stroke-width="1.2"/>
<line x1="659.8" y1="486.0" x2="659.8" y2="480.5" stroke="#5a5a5a" stroke-width="1.2"/>
<text x="661.5" y="503.2" font-size="12" font-weight="bold" text-anchor="middle" fill="#222">adults</text>
<text x="353.6" y="527.6" font-size="16" font-weight="bold" text-anchor="middle" fill="#222">Age [years]</text>
<text transform="translate(14.3,341.6) rotate(-90)" font-size="16" font-weight="bold" text-anchor="middle" fill="#222">Rivaroxaban Clearance [L/h]</text>
<line x1="659.8" y1="306.2" x2="659.8" y2="368.6" stroke="#444" stroke-width="1"/>
<line x1="659.8" y1="403.8" x2="659.8" y2="431.1" stroke="#444" stroke-width="1"/>
<line x1="650" y1="306.2" x2="669.5" y2="306.2" stroke="#444" stroke-width="1.1"/>
<line x1="650" y1="431.1" x2="669.5" y2="431.1" stroke="#444" stroke-width="1.1"/>
<rect x="650.2" y="368.6" width="18.6" height="35.2" fill="#fff" stroke="#444" stroke-width="0.95"/>
<line x1="650.2" y1="386.5" x2="668.8" y2="386.5" stroke="#444" stroke-width="1"/>
<circle cx="659.8" cy="262.9" r="3.3" fill="none" stroke="#111" stroke-width="1.15"/>
<circle cx="659.8" cy="266.4" r="3.3" fill="none" stroke="#111" stroke-width="1.15"/>
<circle cx="659.8" cy="269.1" r="3.3" fill="none" stroke="#111" stroke-width="1.15"/>
<circle cx="659.8" cy="274.5" r="3.3" fill="none" stroke="#111" stroke-width="1.15"/>
<circle cx="659.8" cy="275.3" r="3.3" fill="none" stroke="#111" stroke-width="1.15"/>
<circle cx="659.8" cy="276.2" r="3.3" fill="none" stroke="#111" stroke-width="1.15"/>
<circle cx="659.8" cy="283.7" r="3.3" fill="none" stroke="#111" stroke-width="1.15"/>
<circle cx="659.8" cy="292.6" r="3.3" fill="none" stroke="#111" stroke-width="1.15"/>
<circle cx="659.8" cy="295.5" r="3.3" fill="none" stroke="#111" stroke-width="1.15"/>
<circle cx="659.8" cy="298.3" r="3.3" fill="none" stroke="#111" stroke-width="1.15"/>
<circle cx="659.8" cy="300.4" r="3.3" fill="none" stroke="#111" stroke-width="1.15"/>
<circle cx="659.8" cy="302.9" r="3.3" fill="none" stroke="#111" stroke-width="1.15"/>
<circle cx="659.8" cy="430.6" r="3.3" fill="none" stroke="#111" stroke-width="1.15"/>
<circle cx="659.8" cy="431.4" r="3.3" fill="none" stroke="#111" stroke-width="1.15"/>
<circle cx="659.8" cy="432.3" r="3.3" fill="none" stroke="#111" stroke-width="1.15"/>
<circle cx="659.8" cy="433.3" r="3.3" fill="none" stroke="#111" stroke-width="1.15"/>
<circle cx="659.8" cy="434.0" r="3.3" fill="none" stroke="#111" stroke-width="1.15"/>
<circle cx="659.8" cy="440.4" r="3.3" fill="none" stroke="#111" stroke-width="1.15"/>
<circle cx="659.8" cy="442.4" r="3.3" fill="none" stroke="#111" stroke-width="1.15"/>
<circle cx="659.8" cy="452.5" r="3.3" fill="none" stroke="#111" stroke-width="1.15"/>
<circle cx="659.8" cy="454.2" r="3.3" fill="none" stroke="#111" stroke-width="1.15"/>
<circle cx="659.8" cy="455.4" r="3.3" fill="none" stroke="#111" stroke-width="1.15"/>
</svg></body></html>
